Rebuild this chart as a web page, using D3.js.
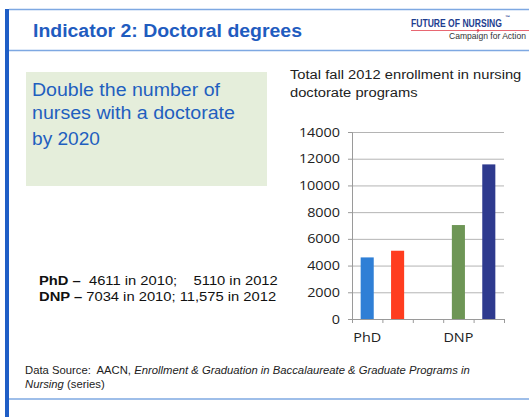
<!DOCTYPE html>
<html>
<head>
<meta charset="utf-8">
<script src="https://cdn.jsdelivr.net/npm/d3@7"></script>
<style>
  body { margin: 0; background: #ffffff; }
  svg { display: block; }
</style>
</head>
<body>
<svg id="slide" width="529" height="417"></svg>
<script>
// Enrollment in nursing doctorate programs (fall 2010 vs fall 2012)
const categories = ["PhD 2010", "PhD 2012", "gap", "DNP 2010", "DNP 2012"];
const categoryLabels = ["PhD", "", "", "DNP", ""];
const enrollment = [4611, 5110, null, 7034, 11575];
const barColors = ["#2f7fd6", "#ff3d1f", null, "#6e9656", "#2e3a8e"];
const yTicks = [0, 2000, 4000, 6000, 8000, 10000, 12000, 14000];

const svg = d3.select("#slide");
const W = 529, H = 417;
const sans = "'Liberation Sans', Arial, sans-serif";
const narrow = "'Liberation Sans Narrow', 'Liberation Sans', Arial, sans-serif";

// widen a text block horizontally about its left edge
function stretch(sel, x0, sx) {
  sel.attr("transform", `translate(${x0},0) scale(${sx},1) translate(${-x0},0)`);
  return sel;
}
// scale a single text line so it spans exactly `width` pixels from x0
function fitWidth(sel, x0, width) {
  const w = sel.node().getComputedTextLength();
  return stretch(sel, x0, width / w);
}

// ---- slide frame ----
const frameBlue = "#7ea8e2";
svg.append("rect").attr("x", 5).attr("y", 9).attr("width", 4).attr("height", H - 9).attr("fill", "#1f5ec6");
[9.5, 50.5, 399].forEach(yy => {
  svg.append("line").attr("x1", 9).attr("x2", W).attr("y1", yy).attr("y2", yy)
    .attr("stroke", frameBlue).attr("stroke-width", 1.5);
});

// ---- slide title ----
svg.append("text").attr("x", 33).attr("y", 37)
  .attr("font-family", sans)
  .attr("font-weight", "bold").attr("font-size", 18).attr("fill", "#1f5cbf")
  .attr("textLength", 269).attr("lengthAdjust", "spacingAndGlyphs")
  .text("Indicator 2: Doctoral degrees");

// ---- logo ----
const logo = svg.append("g");
const brand = logo.append("text").attr("x", 411).attr("y", 27)
  .attr("font-family", narrow)
  .attr("font-weight", "bold").attr("font-size", 10.5).attr("fill", "#1d3d8f")
  .text("FUTURE OF NURSING");
fitWidth(brand, 411, 91);
logo.append("text").attr("x", 505).attr("y", 19)
  .attr("font-family", sans)
  .attr("font-weight", "bold").attr("font-size", 5).attr("fill", "#1d3d8f").text("\u2122");
logo.append("line").attr("x1", 411).attr("x2", W).attr("y1", 30.5).attr("y2", 30.5)
  .attr("stroke", "#e2404e").attr("stroke-width", 0.8);
logo.append("circle").attr("cx", 478).attr("cy", 30.5).attr("r", 1.3).attr("fill", "#e2404e");
const tagline = logo.append("text").attr("x", 449).attr("y", 39)
  .attr("font-family", narrow)
  .attr("font-size", 9).attr("fill", "#333")
  .text("Campaign for Action");
fitWidth(tagline, 449, 77);

// ---- goal box ----
svg.append("rect").attr("x", 26).attr("y", 72).attr("width", 241).attr("height", 114)
  .attr("fill", "#e5eedb");
const goal = svg.append("text")
  .attr("font-family", sans)
  .attr("font-size", 17.5).attr("fill", "#1f5fbf");
[["Double the number of", 96, 188], ["nurses with a doctorate", 119, 203], ["by 2020", 145, 68]]
  .forEach(([t, yy, len]) => {
    goal.append("tspan").attr("x", 32).attr("y", yy)
      .attr("textLength", len).attr("lengthAdjust", "spacingAndGlyphs").text(t);
  });

// ---- summary lines ----
const summary = svg.append("g")
  .attr("font-family", sans)
  .attr("font-size", 13).attr("fill", "#111");
stretch(summary, 39, 1.135);
const s1 = summary.append("text").attr("x", 39).attr("y", 285).attr("xml:space", "preserve");
s1.append("tspan").attr("font-weight", "bold").text("PhD \u2013 ");
s1.append("tspan").text(" 4611 in 2010;    5110 in 2012");
const s2 = summary.append("text").attr("x", 39).attr("y", 301);
s2.append("tspan").attr("font-weight", "bold").text("DNP \u2013 ");
s2.append("tspan").text("7034 in 2010; 11,575 in 2012");

// ---- footer source ----
const src = svg.append("g")
  .attr("font-family", sans)
  .attr("font-size", 10).attr("fill", "#222");
stretch(src, 25, 1.13);
const f1 = src.append("text").attr("x", 25).attr("y", 374).attr("xml:space", "preserve");
f1.append("tspan").text("Data Source:  AACN, ");
f1.append("tspan").attr("font-style", "italic")
  .text("Enrollment & Graduation in Baccalaureate & Graduate Programs in");
const f2 = src.append("text").attr("x", 25).attr("y", 388).attr("xml:space", "preserve");
f2.append("tspan").attr("font-style", "italic").text("Nursing");
f2.append("tspan").text(" (series)");

// ---- chart ----
const chartTitle = svg.append("text")
  .attr("font-family", sans)
  .attr("font-size", 13.5).attr("fill", "#222");
stretch(chartTitle, 290, 1.09);
chartTitle.append("tspan").attr("x", 290).attr("y", 79).text("Total fall 2012 enrollment in nursing");
chartTitle.append("tspan").attr("x", 290).attr("y", 97).text("doctorate programs");

const plot = { left: 352, right: 504, top: 132, bottom: 319 };

const x = d3.scaleBand().domain(categories)
  .range([plot.left, plot.right])
  .paddingInner(0.57).paddingOuter(0.285);
const y = d3.scaleLinear().domain([0, 14000]).range([plot.bottom, plot.top]);

const axisFont = "'Open Sans', 'Liberation Sans', sans-serif";
const axisWiden = 1.15;

// gridlines
svg.append("g")
  .attr("transform", `translate(${plot.left},0)`)
  .call(d3.axisRight(y).tickValues(yTicks).tickSize(plot.right - plot.left).tickFormat(""))
  .call(g => g.select(".domain").remove())
  .call(g => g.selectAll(".tick line").attr("stroke", "#b4b4b4").attr("stroke-width", 1));

// y axis
svg.append("g")
  .attr("transform", `translate(${plot.left},0)`)
  .call(d3.axisLeft(y).tickValues(yTicks).tickSize(4).tickPadding(8).tickFormat(d3.format("d")))
  .call(g => g.select(".domain").attr("stroke", "#9a9a9a"))
  .call(g => g.selectAll(".tick line").attr("stroke", "#9a9a9a"))
  .call(g => g.selectAll(".tick text")
    .attr("font-family", axisFont).attr("font-size", 12.5).attr("fill", "#222")
    .each(function () {
      const w = this.getComputedTextLength();
      d3.select(this).attr("textLength", w * axisWiden).attr("lengthAdjust", "spacingAndGlyphs");
    }));

// bars
svg.append("g").selectAll("rect")
  .data(categories.map((c, i) => ({ c, v: enrollment[i], color: barColors[i] })).filter(d => d.v != null))
  .join("rect")
  .attr("x", d => x(d.c))
  .attr("width", x.bandwidth())
  .attr("y", d => y(d.v))
  .attr("height", d => y(0) - y(d.v))
  .attr("fill", d => d.color);

// x axis: baseline with ticks between categories
const xAxis = svg.append("g");
xAxis.append("line")
  .attr("x1", plot.left).attr("x2", plot.right)
  .attr("y1", y(0) + 0.5).attr("y2", y(0) + 0.5)
  .attr("stroke", "#9a9a9a");
xAxis.selectAll("line.tick")
  .data(d3.range(categories.length + 1))
  .join("line").attr("class", "tick")
  .attr("x1", i => plot.left + i * x.step() + 0.5)
  .attr("x2", i => plot.left + i * x.step() + 0.5)
  .attr("y1", y(0)).attr("y2", y(0) + 4)
  .attr("stroke", "#9a9a9a");
xAxis.selectAll("text")
  .data(categories.map((c, i) => ({ c, label: categoryLabels[i] })).filter(d => d.label))
  .join("text")
  .attr("x", d => x(d.c) + x.bandwidth() / 2)
  .attr("y", 342)
  .attr("text-anchor", "middle")
  .attr("font-family", axisFont).attr("font-size", 12.5).attr("fill", "#222")
  .text(d => d.label)
  .each(function () {
    const w = this.getComputedTextLength();
    d3.select(this).attr("textLength", w * axisWiden).attr("lengthAdjust", "spacingAndGlyphs");
  });
</script>
</body>
</html>
